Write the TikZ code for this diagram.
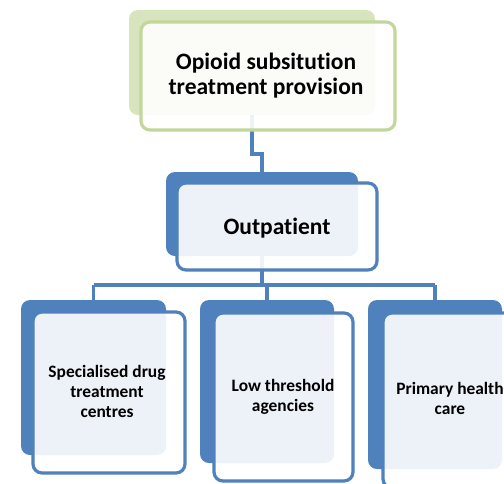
\documentclass[tikz,border=0pt]{standalone}
\usepackage{fontspec}
\setmainfont[Ligatures={NoCommon}]{Carlito}
\begin{document}
\begin{tikzpicture}[x=1pt,y=-1pt,
  greenback/.style={rectangle, rounded corners=9pt, fill=gback, draw=none, inner sep=0pt, outer sep=0pt},
  greenfront/.style={rectangle, rounded corners=9pt, fill=white, fill opacity=0.9, text opacity=1, draw=gborder, line width=3.2pt, inner sep=0pt, outer sep=0pt},
  blueback/.style={rectangle, rounded corners=9pt, fill=bblue, draw=none, inner sep=0pt, outer sep=0pt},
  bluefront/.style={rectangle, rounded corners=9pt, fill=white, fill opacity=0.9, text opacity=1, draw=bblue, line width=3.2pt, inner sep=0pt, outer sep=0pt},
  bigtext/.style={font=\bfseries\fontsize{23.5}{25.5}\selectfont, align=center},
  smalltext/.style={font=\bfseries\fontsize{17.4}{20}\selectfont, align=center},
  conn/.style={draw=bblue, line width=3.2pt}]
\definecolor{gback}{HTML}{D7E4BD}
\definecolor{gborder}{HTML}{C3D69B}
\definecolor{bblue}{HTML}{4F81BD}
\clip (0,0) rectangle (504,483);
\fill[white] (0,0) rectangle (504,483);
% coordinates for connectors
\coordinate (j1) at (252,154);
\coordinate (j2) at (262,154);
\coordinate (h1) at (93.5,285);
\coordinate (h2) at (267,285);
\coordinate (h3) at (435,285);
\coordinate (hm) at (262,285);
% back boxes
\node[greenback, minimum width=246pt, minimum height=105pt] (topback) at (252,62.5) {};
\node[blueback, minimum width=192pt, minimum height=84pt] (outback) at (262,214) {};
\node[blueback, minimum width=145pt, minimum height=155pt] (c1back) at (93.5,377.5) {};
\node[blueback, minimum width=134pt, minimum height=163pt] (c2back) at (267,381.5) {};
\node[blueback, minimum width=134pt, minimum height=169pt] (c3back) at (435,384.5) {};
% connectors
\draw[conn] (topback.south) -- (j1) -- (j2) -- (outback.north);
\draw[conn] (outback.south) -- (hm);
\draw[conn] (h1) -- (h3);
\draw[conn] (h1) -- (c1back.north);
\draw[conn] (h2) -- (c2back.north);
\draw[conn] (h3) -- (c3back.north);
% front boxes
\node[greenfront, minimum width=254pt, minimum height=108pt] (topfront) at (268,76) {};
\node[bigtext] (toptext) at (266,75.5) {Opioid subsitution\\treatment provision};
\node[bluefront, minimum width=200pt, minimum height=87pt] (outfront) at (277,226.5) {};
\node[bigtext] (outtext) at (277,228) {Outpatient};
\node[bluefront, minimum width=152pt, minimum height=161pt] (c1front) at (109,392.5) {};
\node[smalltext] (c1text) at (107,391) {Specialised drug\\treatment\\centres};
\node[bluefront, minimum width=139pt, minimum height=168pt] (c2front) at (283.5,397) {};
\node[smalltext] (c2text) at (283,397) {Low threshold\\agencies};
\node[bluefront, minimum width=139pt, minimum height=175pt] (c3front) at (452.5,400.5) {};
\node[smalltext] (c3text) at (450,398) {Primary health\\care};
\end{tikzpicture}
\end{document}
